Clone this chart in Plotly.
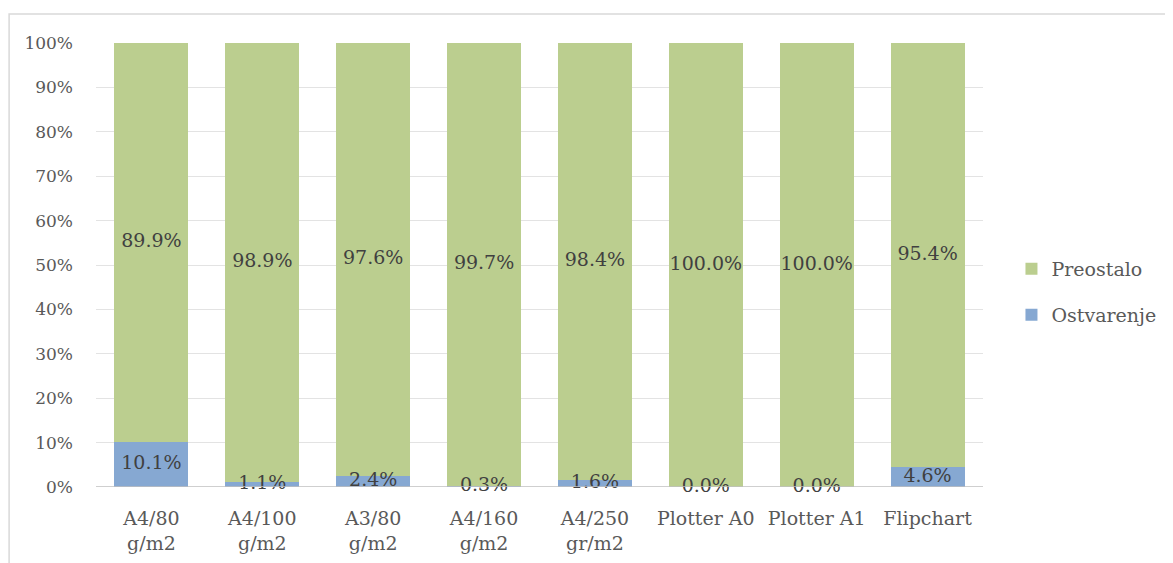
import plotly.graph_objects as go

categories = ["A4/80<br>g/m2", "A4/100<br>g/m2", "A3/80<br>g/m2", "A4/160<br>g/m2",
              "A4/250<br>gr/m2", "Plotter A0", "Plotter A1", "Flipchart"]
ostvarenje = [10.1, 1.1, 2.4, 0.3, 1.6, 0.0, 0.0, 4.6]
preostalo = [89.9, 98.9, 97.6, 99.7, 98.4, 100.0, 100.0, 95.4]
y_ticks = [0, 10, 20, 30, 40, 50, 60, 70, 80, 90, 100]
y_tick_labels = [f"{t}%" for t in y_ticks]

FONT = "DejaVu Serif"
GREEN = "#BBCE8F"
BLUE = "#86A8D2"

fig = go.Figure()
fig.add_trace(go.Bar(x=categories, y=ostvarenje, name="Ostvarenje",
                     marker=dict(color=BLUE, line=dict(width=0)), legend="legend2"))
fig.add_trace(go.Bar(x=categories, y=preostalo, name="Preostalo",
                     marker=dict(color=GREEN, line=dict(width=0)), legend="legend"))

# data labels centered in each segment
fig.add_trace(go.Scatter(x=categories, y=[v / 2 for v in ostvarenje], mode="text",
                         text=[f"{v:.1f}%" for v in ostvarenje], showlegend=False,
                         textfont=dict(family=FONT, size=19, color="#404040"),
                         cliponaxis=False, hoverinfo="skip"))
fig.add_trace(go.Scatter(x=categories, y=[o + p / 2 for o, p in zip(ostvarenje, preostalo)],
                         mode="text", text=[f"{v:.1f}%" for v in preostalo], showlegend=False,
                         textfont=dict(family=FONT, size=19, color="#404040"),
                         cliponaxis=False, hoverinfo="skip"))

# page body has an 8px offset
W, H = 1165, 555
L, T = 87.5, 35
R = W - 975.5
B = H - 479
PW = W - L - R
PH = H - T - B

fig.update_layout(
    width=W, height=H,
    margin=dict(l=L, r=R, t=T, b=B, pad=0, autoexpand=False),
    barmode="stack", bargap=0.333,
    plot_bgcolor="white", paper_bgcolor="white",
    font=dict(family=FONT, size=18, color="#595959"),
    xaxis=dict(showgrid=False, showline=False, ticks="",
               tickfont=dict(family=FONT, size=19, color="#595959"),
               ticklabelstandoff=18),
    yaxis=dict(range=[0, 100], tickvals=y_ticks, ticktext=y_tick_labels,
               showgrid=True, gridcolor="#E3E3E3", gridwidth=1, zeroline=False,
               showline=False, ticks="", tickfont=dict(family=FONT, size=17, color="#595959"),
               ticklabelstandoff=22),
    legend=dict(x=(1004 - L) / PW, y=1 - (261 - T) / PH, xanchor="left", yanchor="middle",
                font=dict(family=FONT, size=19, color="#595959"), itemwidth=30,
                bgcolor="rgba(0,0,0,0)"),
    legend2=dict(x=(1004 - L) / PW, y=1 - (307 - T) / PH, xanchor="left", yanchor="middle",
                 font=dict(family=FONT, size=19, color="#595959"), itemwidth=30,
                 bgcolor="rgba(0,0,0,0)"),
    shapes=[
        dict(type="line", xref="paper", yref="y", x0=0, x1=1, y0=0, y1=0,
             line=dict(color="#BFBFBF", width=1.5), layer="above"),
        dict(type="rect", xref="paper", yref="paper",
             x0=(0.5 - L) / PW, x1=1.4, y0=-0.5, y1=1 + (T - 6) / PH,
             line=dict(color="#D9D9D9", width=1.5), layer="below"),
    ],
)

fig.write_html("out.html")
